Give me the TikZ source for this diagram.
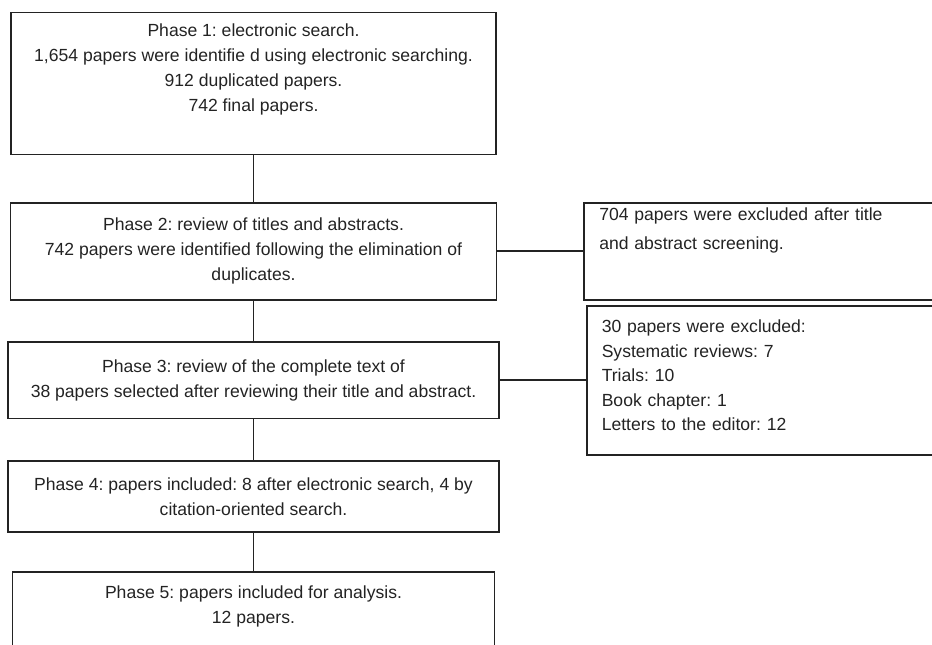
\documentclass[tikz,border=0pt]{standalone}
\usepackage{fontspec}
\setmainfont{Liberation Sans}
\frenchspacing
\usetikzlibrary{positioning}
\definecolor{ink}{RGB}{35,35,35}
\tikzstyle{phase}=[draw=ink, text=ink, line width=1pt, align=center, inner sep=0pt, font=\fontsize{10pt}{14.2pt}\selectfont]
\tikzstyle{excl}=[draw=ink, text=ink, line width=1pt, align=left, text width=6.7cm, inner xsep=0.3cm, inner ysep=0pt]
\tikzstyle{link}=[draw=ink, line width=0.9pt]

\begin{document}
\begin{tikzpicture}
            \useasboundingbox (0,0) rectangle (18.64,-12.9);
            \clip (0,0) rectangle (18.64,-12.9);
            \node[phase, minimum width=9.7cm, minimum height=2.84cm] (p1) at (5.07,-1.67) {Phase 1: electronic search.\\ 1,654 papers were identifie d using electronic searching.\\ 912 duplicated papers.\\ 742 final papers.\\[0.12cm]\mbox{}};
            \node[phase, minimum width=9.72cm, minimum height=1.94cm, below=0.93cm of p1] (p2) {Phase 2: review of titles and abstracts.\\ 742 papers were identified following the elimination of\\ duplicates.};
            \node[phase, minimum width=9.82cm, minimum height=1.53cm, below=0.81cm of p2] (p3) {Phase 3: review of the complete text of\\ 38 papers selected after reviewing their title and abstract.};
            \node[phase, minimum width=9.82cm, minimum height=1.43cm, below=0.81cm of p3] (p4) {Phase 4: papers included: 8 after electronic search, 4 by\\ citation-oriented search.};
            \node[phase, minimum width=9.64cm, minimum height=1.92cm, below=0.76cm of p4] (p5) {Phase 5: papers included for analysis.\\ 12 papers.\\[0.12cm]\mbox{}};

            \node[excl, minimum height=1.94cm, font=\fontsize{10pt}{16.4pt}\selectfont, right=1.72cm of p2] (ex1) {704 papers were excluded after title\\ and abstract screening.\\[0.32cm]\mbox{}};
            \node[excl, minimum height=2.98cm, font=\fontsize{10pt}{13.9pt}\selectfont, right=1.72cm of p3] (ex2) {30 papers were excluded:\\ Systematic reviews: 7\\ Trials: 10\\ Book chapter: 1\\ Letters to the editor: 12\\[-0.29cm]\mbox{}};

            \draw[link] (p1) -- (p2);
            \draw[link] (p2) -- (p3);
            \draw[link] (p3) -- (p4);
            \draw[link] (p4) -- (p5);
            \draw[link] (p2) -- (ex1);
            \draw[link] (p3) -- (ex2);
        \end{tikzpicture}
\end{document}
